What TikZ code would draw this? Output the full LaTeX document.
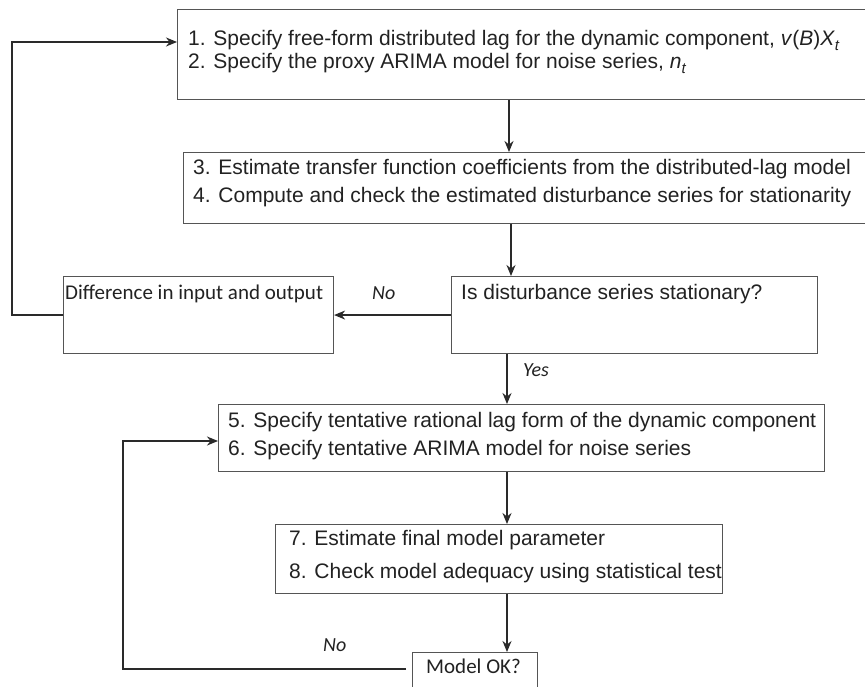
\documentclass[tikz,border=0pt]{standalone}
\usepackage{fontspec}
\setmainfont{Liberation Sans}
\newfontfamily\calib{Carlito}
\usetikzlibrary{arrows.meta}
\definecolor{boxc}{HTML}{555555}
\definecolor{linec}{HTML}{2A2A2A}
\definecolor{txtc}{HTML}{222222}
\newcommand{\subt}[1]{\raisebox{-0.4ex}{\fontsize{15}{15}\selectfont\textit{#1}}}
\begin{document}
\begin{tikzpicture}[x=1pt,y=-1pt,
 box/.style={draw=boxc, line width=1.1pt, inner sep=0pt, anchor=north west},
 ln/.style={anchor=mid west, inner sep=0pt, text=txtc, font=\fontsize{21}{24}\selectfont},
 cl/.style={anchor=mid west, inner sep=0pt, text=txtc, font=\calib\fontsize{21}{24}\selectfont},
 lab/.style={anchor=mid west, inner sep=0pt, text=txtc, font=\calib\itshape\fontsize{20}{24}\selectfont},
 arr/.style={draw=linec, line width=1.2pt, -{Stealth[length=11pt,width=9pt,inset=3.5pt]}},
 con/.style={draw=linec, line width=1.2pt}]
\path[use as bounding box] (0,0) rectangle (865,687);
\fill[white] (0,0) rectangle (865,687);
\clip (0,0) rectangle (865,687);

% boxes
\node[box, minimum width=720pt, minimum height=90pt] (b1) at (177,9) {};
\node[box, minimum width=720pt, minimum height=71pt] (b2) at (183,152) {};
\node[box, minimum width=366pt, minimum height=77pt] (b3) at (451,276) {};
\node[box, minimum width=270pt, minimum height=77pt] (bd) at (63,276) {};
\node[box, minimum width=606pt, minimum height=67pt] (b5) at (218,404) {};
\node[box, minimum width=447pt, minimum height=69pt] (b7) at (275,524) {};
\node[box, minimum width=125pt, minimum height=60pt] (bok) at (412,652) {};

% texts
\node[ln] (t1) at (188,43) {1. Specify free-form distributed lag for the dynamic component, \textit{v}(\textit{B})\textit{X}\subt{t}};
\node[ln] (t2) at (188,66) {2. Specify the proxy ARIMA model for noise series, \textit{n}\subt{t}};
\node[ln] (t3) at (193,172) {3. Estimate transfer function coefficients from the distributed-lag model};
\node[ln] (t4) at (193,200) {4. Compute and check the estimated disturbance series for stationarity};
\node[ln] (tq) at (461,297) {Is disturbance series stationary?};
\node[cl] (td) at (65,297) {Difference in input and output};
\node[ln] (t5) at (228,425) {5. Specify tentative rational lag form of the dynamic component};
\node[ln] (t6) at (228,453) {6. Specify tentative ARIMA model for noise series};
\node[ln] (t7) at (289,543) {7. Estimate final model parameter};
\node[ln] (t8) at (289,576) {8. Check model adequacy using statistical test};
\node[cl] (tok) at (426,671) {Model OK?};

% labels
\node[lab] (no1) at (372,297) {No};
\node[lab] (yes) at (523,374) {Yes};
\node[lab] (no2) at (323,649) {No};

% connector coordinates
\coordinate (x1) at (509,0);
\coordinate (x2) at (511,0);
\coordinate (x3) at (507,0);
\coordinate (c2) at (12,42);
\coordinate (c3) at (123,441);
\coordinate (yb) at (0,669);

% connectors
\draw[arr] (x1 |- b1.south) -- (x1 |- b2.north);
\draw[arr] (x2 |- b2.south) -- (x2 |- b3.north);
\draw[arr] (b3.west) -- (bd.east);
\draw[arr] (bd.west) -| (c2) -- (c2 -| b1.west);
\draw[arr] (x3 |- b3.south) -- (x3 |- b5.north);
\draw[arr] (x3 |- b5.south) -- (x3 |- b7.north);
\draw[arr] (x3 |- b7.south) -- (x3 |- bok.north);
\draw[arr, shorten <=6pt] (bok.west |- yb) -| (c3) -- (c3 -| b5.west);
\end{tikzpicture}
\end{document}
